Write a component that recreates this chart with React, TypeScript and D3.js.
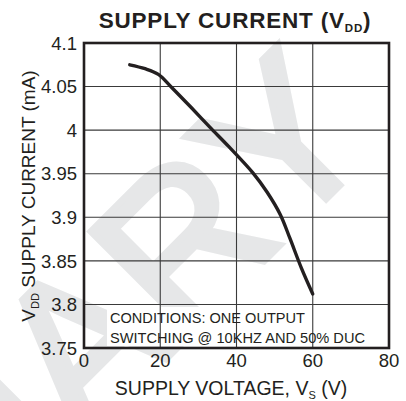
import React from "react";
import * as d3 from "d3";

const voltage = [12, 16, 19.5, 23, 28, 33, 38, 44.3, 48, 51.5, 54, 57, 60];
const current = [4.075, 4.0705, 4.064, 4.049, 4.0265, 4.0035, 3.981, 3.951, 3.929, 3.903, 3.876, 3.842, 3.812];
const xTicks = [0, 20, 40, 60, 80];
const yTicks = [3.75, 3.8, 3.85, 3.9, 3.95, 4, 4.05, 4.1];
const yTickLabels = ["3.75", "3.8", "3.85", "3.9", "3.95", "4", "4.05", "4.1"];

const W = 406, H = 401;
const M = { left: 84, right: 389, top: 43, bottom: 348 };
const FONT = "'Liberation Sans', Arial, Helvetica, sans-serif";
const INK = "#231f20";

export default function App() {
  const x = d3.scaleLinear().domain([0, 80]).range([M.left, M.right]);
  const y = d3.scaleLinear().domain([3.75, 4.1]).range([M.bottom, M.top]);
  const line = d3
    .line<number>()
    .x((_, i) => x(voltage[i]))
    .y((d) => y(d))
    .curve(d3.curveCatmullRom.alpha(0.5));

  return (
    <svg width={W} height={H} style={{ position: "absolute", left: 0, top: 0, background: "#fff" }}>
      <rect x={0} y={0} width={W} height={H} fill="#fff" />
      {/* watermark */}
      <text
        transform="translate(382,143) rotate(-45)"
        textAnchor="end"
        fontFamily={FONT}
        fontSize={208}
        fill="#e6e7e8"
        stroke="#e6e7e8"
        strokeWidth={7}
        strokeLinejoin="miter"
      >
        PRELIMINARY
      </text>
      {/* conditions box background */}
      <rect x={107} y={307} width={262} height={39} fill="#fff" />
      {/* grid */}
      {xTicks.slice(1, -1).map((t) => (
        <line key={"gx" + t} x1={x(t)} x2={x(t)} y1={M.top} y2={M.bottom} stroke="#3a3a3a" strokeWidth={1.1} />
      ))}
      {yTicks.slice(1, -1).map((t) => (
        <line key={"gy" + t} x1={M.left} x2={M.right} y1={y(t)} y2={y(t)} stroke="#3a3a3a" strokeWidth={1.1} />
      ))}
      <rect x={M.left} y={M.top} width={M.right - M.left} height={M.bottom - M.top} fill="none" stroke={INK} strokeWidth={2.6} />
      {/* curve */}
      <path d={line(current) || ""} fill="none" stroke={INK} strokeWidth={3.4} strokeLinecap="round" strokeLinejoin="round" />
      {/* y tick labels */}
      {yTicks.map((t, i) => (
        <text key={"yl" + t} x={77} y={y(t)} dy="0.36em" textAnchor="end" fontFamily={FONT} fontSize={18.5} fill={INK}>
          {yTickLabels[i]}
        </text>
      ))}
      {/* x tick labels */}
      {xTicks.map((t) => (
        <text key={"xl" + t} x={x(t)} y={367} textAnchor="middle" fontFamily={FONT} fontSize={18.5} fill={INK}>
          {t}
        </text>
      ))}
      {/* title */}
      <text x={235} y={28} textAnchor="middle" fontFamily={FONT} fontSize={22.5} fontWeight="bold" letterSpacing={0.8} fill={INK}>
        SUPPLY CURRENT (V<tspan fontSize={11.5} dy={4}>DD</tspan><tspan dy={-4}>)</tspan>
      </text>
      {/* x axis label */}
      <text x={231} y={395} textAnchor="middle" fontFamily={FONT} fontSize={19.5} fill={INK}>
        SUPPLY VOLTAGE, V<tspan fontSize={11} dy={4}>S</tspan><tspan dy={-4}> (V)</tspan>
      </text>
      {/* y axis label */}
      <text transform="translate(35,196) rotate(-90)" textAnchor="middle" fontFamily={FONT} fontSize={19} fill={INK}>
        V<tspan fontSize={11} dy={4}>DD</tspan><tspan dy={-4}> SUPPLY CURRENT (mA)</tspan>
      </text>
      {/* conditions */}
      <text x={110} y={323} fontFamily={FONT} fontSize={15.5} textLength={195} lengthAdjust="spacingAndGlyphs" fill={INK}>
        CONDITIONS: ONE OUTPUT
      </text>
      <text x={110} y={343} fontFamily={FONT} fontSize={15.5} textLength={255} lengthAdjust="spacingAndGlyphs" fill={INK}>
        SWITCHING @ 10KHZ AND 50% DUC
      </text>
    </svg>
  );
}
